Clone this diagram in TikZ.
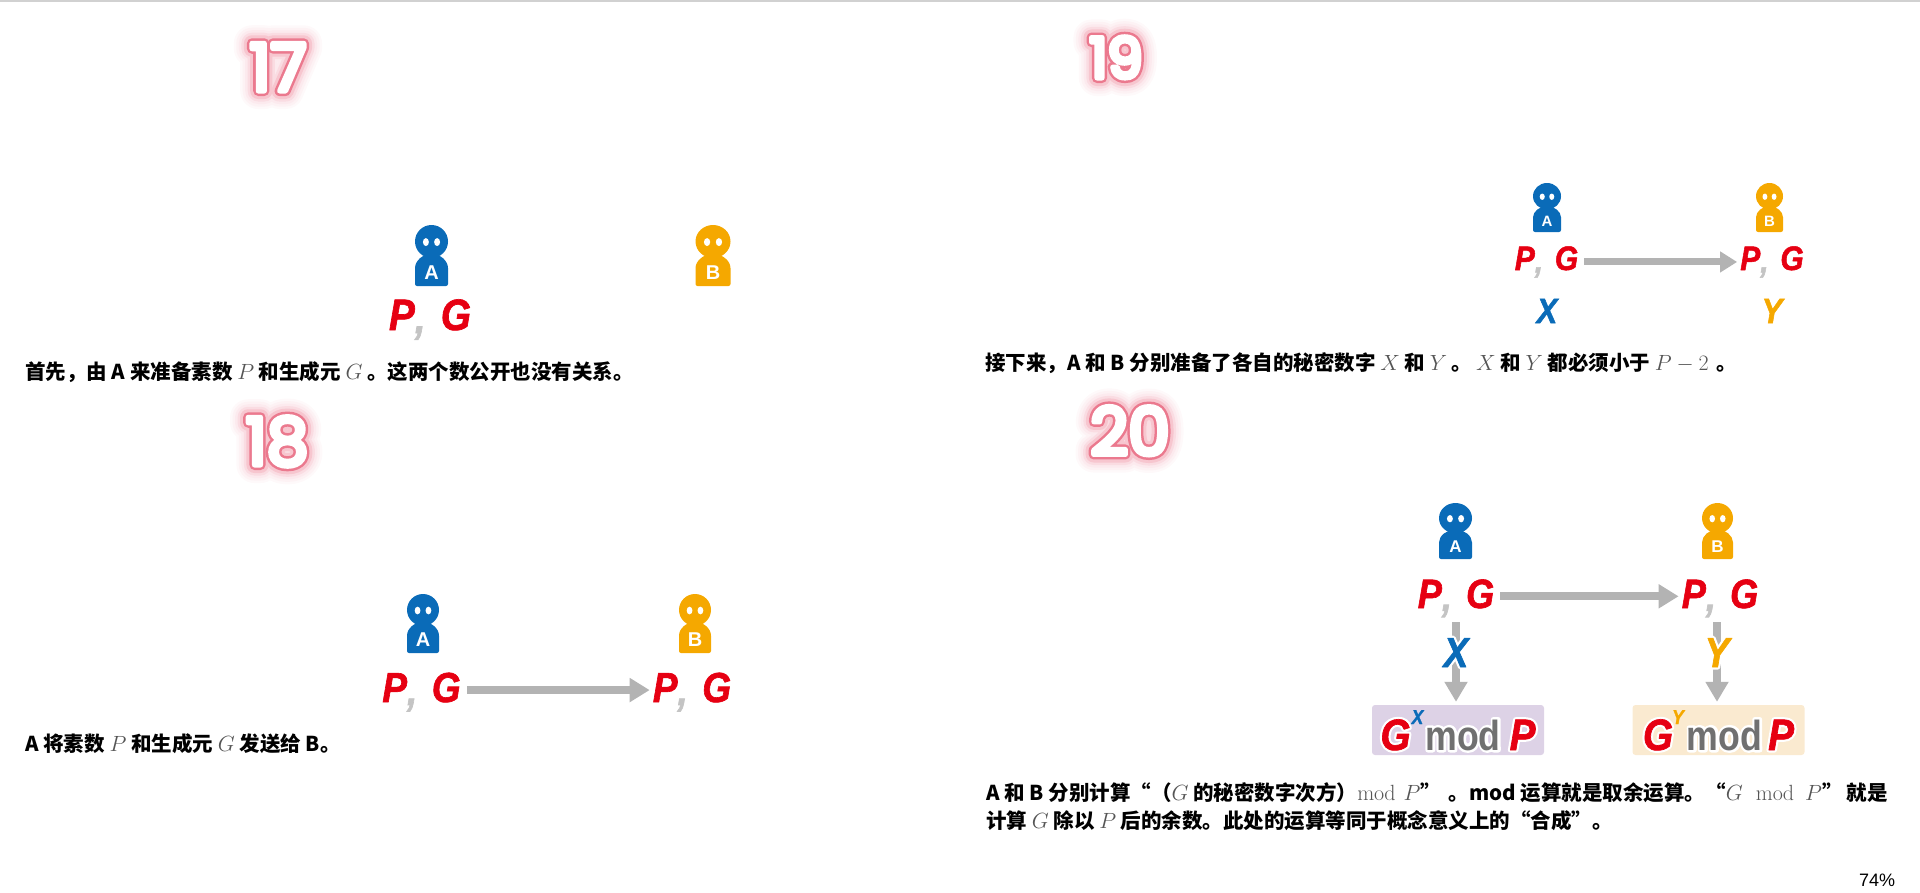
\RequirePackage{fix-cm}
\documentclass[tikz,border=0pt]{standalone}
\usepackage{fontspec}
\usepackage{xcolor}
\usepackage{amsmath}
\usetikzlibrary{arrows.meta,positioning}
\newfontfamily\cnfont{Noto Sans CJK SC}
\newfontfamily\numfont{Poppins}
\newfontfamily\sansfont{Liberation Sans}
\newfontface\keyfont{Liberation Sans Bold Italic}[FakeBold=1.5,FakeStretch=0.88]
\newfontface\keyhalo{Liberation Sans Bold Italic}[FakeStretch=0.88]
\newfontface\modfont{Liberation Sans Bold}[FakeStretch=0.85]
\definecolor{PersonBlue}  {HTML}{0A6BB8}
\definecolor{PersonOrange}{HTML}{F5A800}
\definecolor{KeyRed}      {HTML}{E60012}
\definecolor{ArrowGray}   {HTML}{B3B3B3}
\definecolor{CommaGray}   {HTML}{C4C4C4}
\definecolor{ModGray}     {HTML}{707070}
\definecolor{MathGray}    {HTML}{555555}
\definecolor{BoxPurple}   {HTML}{DDD2E6}
\definecolor{BoxOrange}   {HTML}{FAEAD0}
\definecolor{GlowPink}    {HTML}{E8617A}
\newcommand{\outlined}[3]{\rlap{\color{#2}\special{pdf:code 2 Tr #1 w 1 j}#3\special{pdf:code 0 Tr}}}
\newcommand{\glowdigits}[1]{\foreach \w/\c in {36/GlowPink!4,31/GlowPink!8,26/GlowPink!13,21/GlowPink!22,16/GlowPink!36,10/GlowPink!85,5/white}{\outlined{\w}{\c}{#1}}#1}
\newcommand{\pandg}{\textcolor{KeyRed}{P}\raisebox{-0.07em}{\textcolor{CommaGray}{,\,}}\hspace{0.18em}\textcolor{KeyRed}{G}}
\newcommand{\halokey}[2]{\outlined{5}{white}{\keyhalo #2}\textcolor{#1}{\keyfont #2}}
\newcommand{\halomod}{\outlined{5}{white}{\fontsize{42}{42}\modfont mod}\textcolor{ModGray}{\fontsize{42}{42}\modfont mod}}
\newcommand{\mg}[1]{{\fontsize{22}{27}\selectfont\textcolor{MathGray}{$#1$}}}
\tikzset{
  pics/person/.style n args={3}{code={
    \fill[#2] (0,0.27) ellipse [x radius=0.5,y radius=0.27];
    \fill[#2,rounded corners=2pt] (-0.5,1) -- (-0.5,0.74)
      .. controls (-0.5,0.58) and (-0.25,0.48) .. (0,0.48)
      .. controls (0.25,0.48) and (0.5,0.58) .. (0.5,0.74) -- (0.5,1) -- cycle;
    \fill[white] (-0.17,0.28) ellipse [x radius=0.09,y radius=0.065];
    \fill[white] (0.17,0.28) ellipse [x radius=0.09,y radius=0.065];
    \node[inner sep=0,text=white,font=\sansfont\bfseries\fontsize{#3}{#3}\selectfont] (-lbl) at (0,0.78){#1};
  }},
  numtxt/.style={inner sep=0,anchor=base,text=white,font=\numfont\fontsize{#1}{#1}\selectfont},
  keytxt/.style={inner sep=0,anchor=base,font=\keyfont\fontsize{#1}{#1}\selectfont},
  captxt/.style={inner sep=0,anchor=west,align=left,text=black,
                 font=\cnfont\bfseries\fontsize{20.5}{28}\selectfont},
  modbox/.style={rectangle,rounded corners=3pt,fill=#1,inner sep=0,minimum width=172pt,
                 minimum height=50pt,text height=40pt,text depth=0pt,font=\keyfont\fontsize{44}{44}\selectfont},
  sendarr/.style={-{Triangle[length=20pt,width=23pt]},line width=8pt,color=ArrowGray,
                  shorten <=6pt,shorten >=3pt},
  downarr/.style={-{Triangle[length=20pt,width=22pt]},line width=8pt,color=ArrowGray,
                  shorten <=5pt,shorten >=3pt},
}
\begin{document}
\begin{tikzpicture}[x=1pt,y=-1pt]

  \useasboundingbox (0,0) rectangle (1920,892);
  \fill[black!18] (0,0) rectangle (1920,1.5);

  \node[numtxt=66] (N17) at (278,91){\glowdigits{17}};
  \pic[xscale=33,yscale=61] (A17) at (431.5,225) {person={A}{PersonBlue}{20}};
  \pic[xscale=35,yscale=61] (B17) at (713,225) {person={B}{PersonOrange}{20}};
  \node[keytxt=44] (PG17) at (430,330){\pandg};
  \node[captxt] (C17) at (25,372){首先，由 A 来准备素数 \mg{P} 和生成元 \mg{G} 。这两个数公开也没有关系。};

  \node[numtxt=66] (N18) at (277,465){\glowdigits{18}};
  \pic[xscale=32,yscale=59] (A18) at (423,594) {person={A}{PersonBlue}{20}};
  \pic[xscale=32,yscale=59] (B18) at (695,594) {person={B}{PersonOrange}{20}};
  \node[keytxt=42] (PG18a) at (421.5,702){\pandg};
  \node[keytxt=42] (PG18b) at (692,702){\pandg};
  \draw[sendarr] ([yshift=2pt]PG18a.east) -- ([yshift=2pt]PG18b.west);
  \node[captxt] (C18) at (25,744){A 将素数 \mg{P} 和生成元 \mg{G} 发送给 B。};

  \node[numtxt=56] (N19) at (1116,78){\glowdigits{19}};
  \pic[xscale=28,yscale=49] (A19) at (1547,183) {person={A}{PersonBlue}{15}};
  \pic[xscale=27,yscale=49] (B19) at (1769.5,183) {person={B}{PersonOrange}{15}};
  \node[keytxt=34] (PG19a) at (1546.5,270){\pandg};
  \node[keytxt=34] (PG19b) at (1772,270){\pandg};
  \draw[sendarr,-{Triangle[length=17pt,width=20pt]},line width=7pt] (PG19a.east) -- (PG19b.west);
  \node[keytxt=35,text=PersonBlue] (X19) at (1547,323){X};
  \node[keytxt=35,text=PersonOrange] (Y19) at (1772,323){Y};
  \node[captxt] (C19) at (985,363){接下来，A 和 B 分别准备了各自的秘密数字 \mg{X} 和 \mg{Y} 。\hspace{4pt}\mg{X} 和 \mg{Y} 都必须小于 \mg{P-2}\hspace{3pt} 。};

  \node[numtxt=66] (N20) at (1130,455){\glowdigits{20}};
  \pic[xscale=33,yscale=56] (A20) at (1455.5,503) {person={A}{PersonBlue}{17}};
  \pic[xscale=31,yscale=56] (B20) at (1717.5,503) {person={B}{PersonOrange}{17}};
  \node[keytxt=41] (PG20a) at (1456,608){\pandg};
  \node[keytxt=41] (PG20b) at (1720,608){\pandg};
  \draw[sendarr] ([yshift=2pt]PG20a.east) -- ([yshift=2pt]PG20b.west);
  \node[modbox=BoxPurple] (ModA) at (1458,730){\halokey{KeyRed}{G}\hspace{1pt}\raisebox{26pt}{\fontsize{20}{20}\selectfont\textcolor{PersonBlue}{X}}\hspace{2pt}\halomod\hspace{9pt}\halokey{KeyRed}{P}};
  \node[modbox=BoxOrange] (ModB) at (1718.5,730){\halokey{KeyRed}{G}\hspace{-1pt}\raisebox{26pt}{\fontsize{20}{20}\selectfont\textcolor{PersonOrange}{Y}}\hspace{3pt}\halomod\hspace{6pt}\halokey{KeyRed}{P}};
  \coordinate (AxisA) at (1456,667);
  \coordinate (AxisB) at (1717,667);
  \draw[downarr] (AxisA |- PG20a.south) -- (AxisA |- ModA.north);
  \draw[downarr] (AxisB |- PG20b.south) -- (AxisB |- ModB.north);
  \node[keytxt=42] (X20) at (AxisA){\halokey{PersonBlue}{X}};
  \node[keytxt=42] (Y20) at (AxisB){\halokey{PersonOrange}{Y}};
  \node[captxt] (C20) at (986,807){A 和 B 分别计算“（\mg{G} 的秘密数字次方）\mg{\mathrm{mod}\hspace{8pt}P}”\hspace{8pt}。mod 运算就是取余运算。“\mg{G\hspace{13pt}\mathrm{mod}\hspace{11pt}P}”\hspace{4pt}就是\\计算 \mg{G} 除以 \mg{P} 后的余数。此处的运算等同于概念意义上的“合成”。};

  \node[inner sep=0,font=\sansfont\fontsize{18}{18}\selectfont] (Zoom) at (1877,880){74\%};

\end{tikzpicture}
\end{document}
